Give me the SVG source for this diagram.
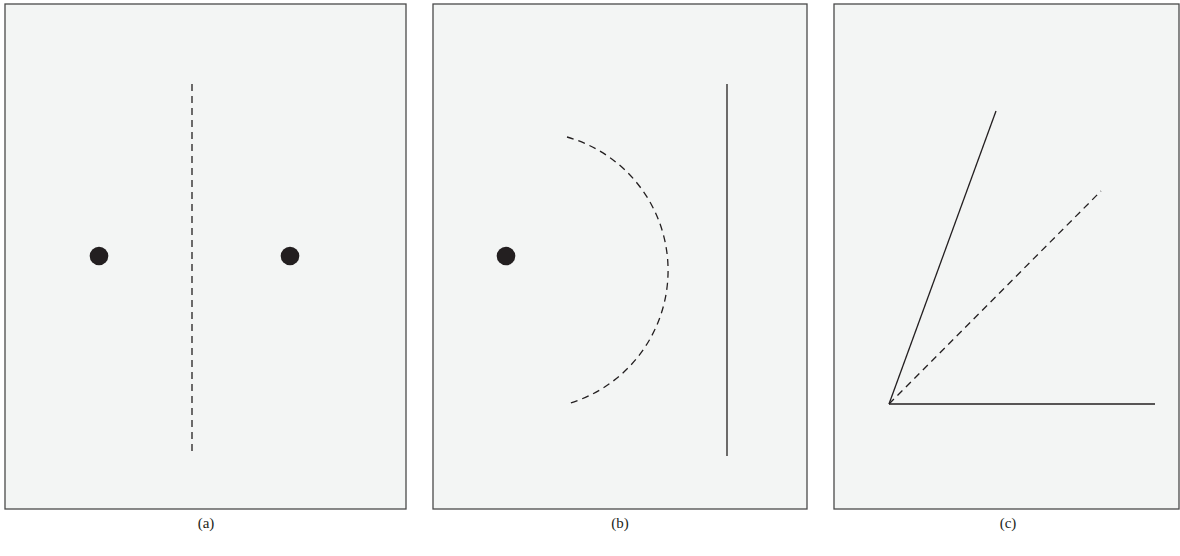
<svg xmlns="http://www.w3.org/2000/svg" width="1180" height="556" viewBox="0 0 1180 556">
<style>
.panel{fill:#f3f5f4;stroke:#4a4a4a;stroke-width:1.3}
.ln{stroke:#231f20;stroke-width:1.3;fill:none}
.dash{stroke:#231f20;stroke-width:1.3;fill:none;stroke-dasharray:7 5}
.dot{fill:#231f20}
.lbl{font-family:"Liberation Serif",serif;font-size:15px;fill:#231f20;text-anchor:middle}
</style>
<g id="panel-a">
<rect class="panel" x="5" y="4" width="401" height="505"/>
<line class="dash" x1="192" y1="84" x2="192" y2="452"/>
<circle class="dot" cx="99" cy="256" r="9.3"/>
<circle class="dot" cx="290" cy="256" r="9.3"/>
<text class="lbl" x="206" y="528">(a)</text>
</g>
<g id="panel-b">
<rect class="panel" x="433" y="4" width="374" height="505"/>
<circle class="dot" cx="506" cy="256" r="9.3"/>
<path class="dash" d="M567,137 A138.7,138.7 0 0 1 567,404"/>
<line class="ln" x1="727" y1="84" x2="727" y2="456"/>
<text class="lbl" x="620" y="528">(b)</text>
</g>
<g id="panel-c">
<rect class="panel" x="834" y="4" width="345" height="505"/>
<line class="ln" x1="889" y1="404" x2="996" y2="111"/>
<line class="dash" x1="889" y1="404" x2="1101" y2="191"/>
<line class="ln" x1="889" y1="404" x2="1155" y2="404"/>
<text class="lbl" x="1008" y="528">(c)</text>
</g>
</svg>
